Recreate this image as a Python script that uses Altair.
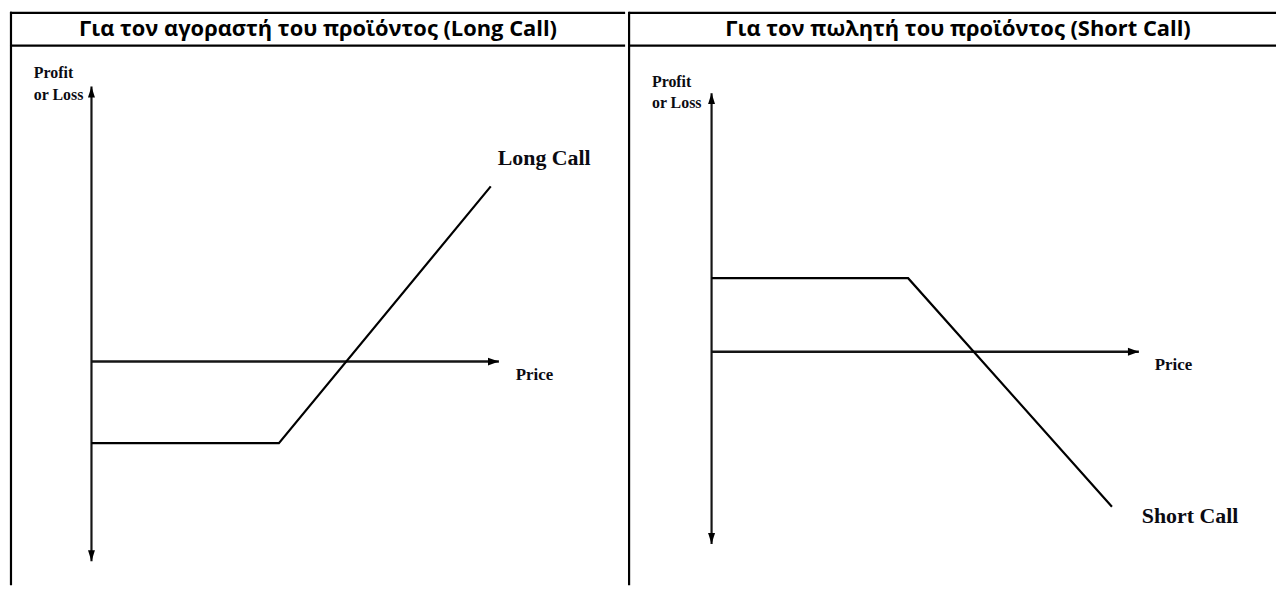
import altair as alt
import pandas as pd

# ---------------- data (diagram units) ----------------
headers = [
    "Για τον αγοραστή του προϊόντος (Long Call)",
    "Για τον πωλητή του προϊόντος (Short Call)",
]
curve_names = ["Long Call", "Short Call"]
y_axis_title = ["Profit", "or Loss"]
x_axis_title = "Price"

# payoff profiles: price vs profit/loss
long_price = [0.0, 4.6, 9.8]
long_pl = [-2.0, -2.0, 4.3]
short_price = [0.0, 4.6, 9.37]
short_pl = [1.72, 1.72, -3.63]

# axis extents (price axis end, P/L axis bottom, P/L axis top)
long_axis = [10.0, -4.9, 6.75]
short_axis = [10.0, -4.5, 6.05]

H = 579
FONT_HEAD = "Open Sans"
FONT_SERIF = "Liberation Serif"
INK = "#0b0b12"


def vdata():
    return alt.Data(values=[{"a": 1}])


def panel(width, unit, ox, oy, price, pl, axis, header, name, head_x,
          left_border, name_dx, name_dy, title_dx, title_dys, price_dx, price_dy):
    xdom = [-ox / unit, (width - ox) / unit]
    ydom = [(oy - H) / unit, oy / unit]
    xs = alt.Scale(domain=xdom, nice=False, zero=False)
    ys = alt.Scale(domain=ydom, nice=False, zero=False)

    def X(f):
        return alt.X(f, type="quantitative", scale=xs, axis=None)

    def Y(f):
        return alt.Y(f, type="quantitative", scale=ys, axis=None)

    xmax, ymin, ymax = axis
    df = pd.DataFrame({"price": price, "pl": pl})

    layers = []
    # table lines
    layers.append(alt.Chart(vdata()).mark_rule(color="black", strokeWidth=2.2).encode(
        x=alt.value(0), x2=alt.value(width), y=alt.value(3)))
    layers.append(alt.Chart(vdata()).mark_rule(color="black", strokeWidth=2.4).encode(
        x=alt.value(0), x2=alt.value(width), y=alt.value(36)))
    layers.append(alt.Chart(vdata()).mark_rule(color="black", strokeWidth=2.2).encode(
        x=alt.value(left_border), y=alt.value(2), y2=alt.value(H)))
    layers.append(alt.Chart(vdata()).mark_text(
        font=FONT_HEAD, fontWeight="bold", fontSize=22, color="black",
        align="center", baseline="middle").encode(
        x=alt.value(head_x), y=alt.value(19.5), text=alt.value(header)))

    # axes
    ya = pd.DataFrame({"x": [0.0], "y": [ymin], "y2": [ymax]})
    xa = pd.DataFrame({"x": [0.0], "x2": [xmax], "y": [0.0]})
    layers.append(alt.Chart(ya).mark_rule(color="#151515", strokeWidth=2.2).encode(
        x=X("x"), y=Y("y"), y2="y2"))
    layers.append(alt.Chart(xa).mark_rule(color="#151515", strokeWidth=2.5).encode(
        x=X("x"), x2="x2", y=Y("y")))
    # arrowheads
    up = pd.DataFrame({"x": [0.0], "y": [ymax]})
    dn = pd.DataFrame({"x": [0.0], "y": [ymin]})
    rt = pd.DataFrame({"x": [xmax], "y": [0.0]})
    layers.append(alt.Chart(up).mark_point(shape="M0,0L0.7,2.2L-0.7,2.2Z", filled=True,
                                           size=100, color="black", opacity=1).encode(x=X("x"), y=Y("y")))
    layers.append(alt.Chart(dn).mark_point(shape="M0,0L0.7,-2.2L-0.7,-2.2Z", filled=True,
                                           size=100, color="black", opacity=1).encode(x=X("x"), y=Y("y")))
    layers.append(alt.Chart(rt).mark_point(shape="M0,0L-2.2,0.8L-2.2,-0.8Z", filled=True,
                                           size=100, color="black", opacity=1).encode(x=X("x"), y=Y("y")))

    # payoff
    layers.append(alt.Chart(df).mark_line(color="black", strokeWidth=2.2).encode(
        x=X("price"), y=Y("pl"), order="price"))

    # labels
    end = pd.DataFrame({"x": [price[-1]], "y": [pl[-1]], "t": [name]})
    layers.append(alt.Chart(end).mark_text(
        font=FONT_SERIF, fontWeight="bold", fontSize=22, color=INK,
        align="left", baseline="middle", dx=name_dx, dy=name_dy).encode(
        x=X("x"), y=Y("y"), text="t"))
    pr = pd.DataFrame({"x": [xmax], "y": [0.0], "t": [x_axis_title]})
    layers.append(alt.Chart(pr).mark_text(
        font=FONT_SERIF, fontWeight="bold", fontSize=17, color=INK,
        align="left", baseline="middle", dx=price_dx, dy=price_dy).encode(
        x=X("x"), y=Y("y"), text="t"))
    for i, t in enumerate(y_axis_title):
        tt = pd.DataFrame({"x": [0.0], "y": [ymax], "t": [t]})
        layers.append(alt.Chart(tt).mark_text(
            font=FONT_SERIF, fontWeight="bold", fontSize=16, color=INK,
            align="left", baseline="middle", dx=title_dx, dy=title_dys[i]).encode(
            x=X("x"), y=Y("y"), text="t"))

    return alt.layer(*layers).properties(width=width, height=H)


left = panel(619, 41.0, 82, 354, long_price, long_pl, long_axis, headers[0],
             curve_names[0], 310, 1, 7, -29, -58, [-14, 8], 17, 14)
right = panel(651, 43.0, 83, 344, short_price, short_pl, short_axis, headers[1],
              curve_names[1], 331, 0, 30, 9, -60, [-11, 10], 16, 13)

chart = alt.hconcat(left, right, spacing=0).properties(
    padding=0
).configure_view(stroke=None).configure_concat(spacing=0)

chart.save("out.html", embed_options={"renderer": "svg", "actions": False})
